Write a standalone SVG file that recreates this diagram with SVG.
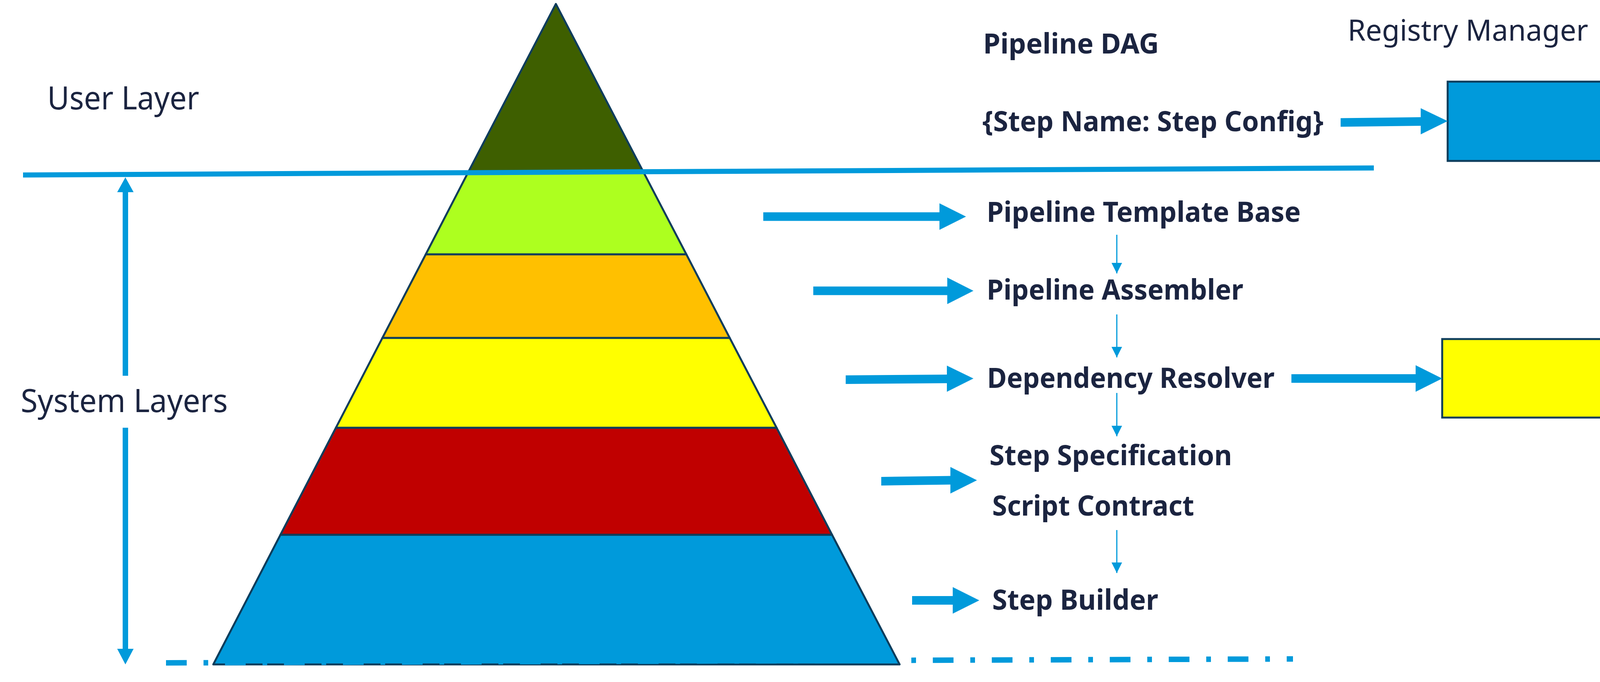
<svg xmlns="http://www.w3.org/2000/svg" width="4322" height="1746" viewBox="0 0 4322 1746">
  <style>
    .lbl { font-family: "Noto Sans", "Open Sans", "Liberation Sans", sans-serif; fill: #1B2440; }
    .reg { font-size: 83px; font-weight: 400; }
    .reg-sm { font-size: 74px; font-weight: 400; }
    .bold { font-size: 71px; font-weight: 700; }
    .layer { stroke: #0E3D5C; stroke-width: 5; stroke-linejoin: round; }
    .box { stroke: #0E3D5C; stroke-width: 5; }
    .blk { fill: #009ADB; stroke: none; }
    .thin { stroke: #009ADB; stroke-width: 3; fill: none; }
    .thick { stroke: #009ADB; stroke-width: 14; fill: none; }
  </style>
  <defs>
    <marker id="sm" markerUnits="userSpaceOnUse" markerWidth="28" markerHeight="28" viewBox="0 0 28 28" refX="27" refY="14" orient="auto">
      <polygon points="0,0.5 27,14 0,27.5" fill="#009ADB"/>
    </marker>
  </defs>
  <rect width="4322" height="1746" fill="#FFFFFF"/>

  <!-- Pyramid -->
  <g id="pyramid">
    <polygon id="layer-blue" class="layer" fill="#009ADB" points="718,1369 2130,1369 2303,1701 546,1701"/>
    <polygon id="layer-red" class="layer" fill="#C00000" points="860,1095 1988,1095 2130,1369 718,1369"/>
    <polygon id="layer-yellow" class="layer" fill="#FFFF00" points="979,865 1868,865 1988,1095 860,1095"/>
    <polygon id="layer-orange" class="layer" fill="#FFC000" points="1090,651 1757,651 1868,865 979,865"/>
    <polygon id="layer-lime" class="layer" fill="#ADFF1F" points="1198,442 1648,442 1757,651 1090,651"/>
    <polygon id="layer-green" class="layer" fill="#3E5F00" points="1423,10 1648,442 1198,442"/>
  </g>

  <!-- Labels -->
  <g id="user-layer"><text class="lbl reg" x="121" y="280" textLength="389" lengthAdjust="spacingAndGlyphs">User Layer</text></g>
  <g id="system-layers"><text class="lbl reg" x="53" y="1055" textLength="530" lengthAdjust="spacingAndGlyphs">System Layers</text></g>
  <g id="registry-manager-label"><text class="lbl reg-sm" x="3450" y="104">Registry Manager</text></g>
  <g id="pipeline-dag"><text class="lbl bold" x="2517" y="137" textLength="450" lengthAdjust="spacingAndGlyphs">Pipeline DAG</text></g>
  <g id="step-config"><text class="lbl bold" x="2515" y="336" textLength="873" lengthAdjust="spacingAndGlyphs">{Step Name: Step Config}</text></g>
  <g id="pipeline-template-base"><text class="lbl bold" x="2526" y="568" textLength="804" lengthAdjust="spacingAndGlyphs">Pipeline Template Base</text></g>
  <g id="pipeline-assembler"><text class="lbl bold" x="2526" y="767" textLength="657" lengthAdjust="spacingAndGlyphs">Pipeline Assembler</text></g>
  <g id="dependency-resolver"><text class="lbl bold" x="2527" y="993" textLength="736" lengthAdjust="spacingAndGlyphs">Dependency Resolver</text></g>
  <g id="step-specification"><text class="lbl bold" x="2533" y="1191" textLength="621" lengthAdjust="spacingAndGlyphs">Step Specification</text></g>
  <g id="script-contract"><text class="lbl bold" x="2540" y="1320" textLength="517" lengthAdjust="spacingAndGlyphs">Script Contract</text></g>
  <g id="step-builder"><text class="lbl bold" x="2540" y="1561" textLength="425" lengthAdjust="spacingAndGlyphs">Step Builder</text></g>

  <!-- Boxes -->
  <g id="registry-box"><rect class="box" x="3706" y="209" width="610" height="203" fill="#009ADB"/></g>
  <g id="resolver-box"><rect class="box" x="3692" y="868" width="611" height="201" fill="#FFFF00"/></g>

  <!-- Connectors -->
  <g id="connectors">
    <!-- layer divider -->
    <line x1="59" y1="448" x2="3517" y2="430" stroke="#009ADB" stroke-width="13"/>
    <!-- dash-dot base line -->
    <line x1="425" y1="1697" x2="3310" y2="1687" stroke="#009ADB" stroke-width="14" stroke-dasharray="53 43 12 43"/>
    <!-- system layers double arrow -->
    <line class="thick" x1="321" y1="490" x2="321" y2="962"/>
    <line class="thick" x1="321" y1="1095" x2="321" y2="1662"/>
    <polygon class="blk" points="321,454 342,492 300,492"/>
    <polygon class="blk" points="321,1701 342,1661 300,1661"/>
    <!-- big block arrows -->
    <polygon class="blk" points="1954,543.5 2405,543.5 2405,520.5 2473,554.5 2405,588.5 2405,565.5 1954,565.5"/>
    <polygon class="blk" points="2082,733.5 2425,733.5 2425,710.5 2492,744.5 2425,778.5 2425,755.5 2082,755.5"/>
    <polygon class="blk" points="2165,961 2424,959 2424,936 2492,969 2424,1003 2424,981 2165,983"/>
    <polygon class="blk" points="2256,1221 2433,1218.5 2433,1195.5 2501,1229.5 2433,1263.5 2433,1240.5 2256,1243"/>
    <polygon class="blk" points="2335,1526 2439,1526 2439,1503 2507,1537 2439,1571 2439,1548 2335,1548"/>
    <polygon class="blk" points="3432,302.5 3637,300 3637,277 3706,310 3637,344 3637,322 3432,324.5"/>
    <polygon class="blk" points="3306,958 3624,958 3624,935 3692,969 3624,1003 3624,980 3306,980"/>
    <!-- thin flow arrows -->
    <line class="thin" x1="2859" y1="601" x2="2859" y2="700" marker-end="url(#sm)"/>
    <line class="thin" x1="2859" y1="805" x2="2859" y2="915" marker-end="url(#sm)"/>
    <line class="thin" x1="2859" y1="1006" x2="2859" y2="1117" marker-end="url(#sm)"/>
    <line class="thin" x1="2859" y1="1357" x2="2859" y2="1467" marker-end="url(#sm)"/>
  </g>
</svg>
